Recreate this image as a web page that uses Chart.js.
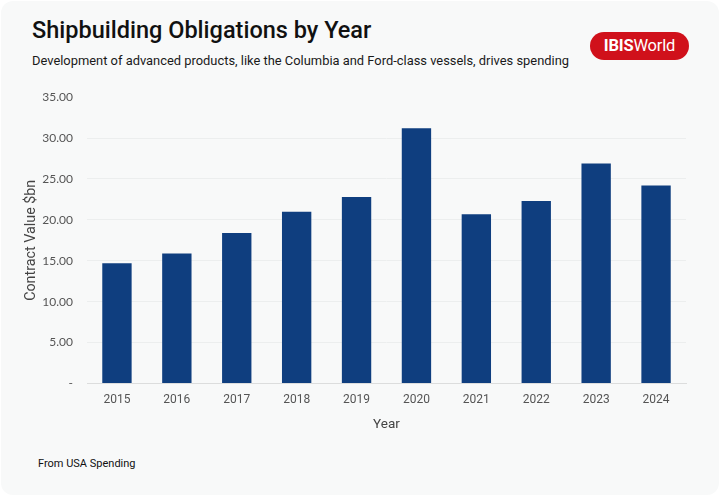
<!DOCTYPE html>
<html>
<head>
<meta charset="utf-8">
<script src="https://cdn.jsdelivr.net/npm/chart.js@4.4.1/dist/chart.umd.min.js"></script>
<style>
  html, body { margin: 0; padding: 0; background: #ffffff; }
  #card {
    position: relative; width: 718px; height: 494px; margin: 1px;
    background: #f8f9f9; border-radius: 12px; overflow: hidden;
    font-family: Roboto, "Noto Sans", sans-serif;
  }
  #title { position: absolute; left: 31px; top: 15px; font-size: 23.5px; font-weight: 500; color: #111; }
  #subtitle { position: absolute; left: 31px; top: 52px; font-size: 12.9px; color: #1a1a1a; }
  #logo {
    position: absolute; left: 589px; top: 31px; width: 99px; height: 28px;
    background: #d0111b; border-radius: 14px; color: #fff; font-size: 16.5px;
    line-height: 28px; text-align: center; letter-spacing: -0.2px;
  }
  #logo b { font-weight: 700; }
  #source { position: absolute; left: 37px; top: 456px; font-size: 11px; color: #111; }
  #chartWrap { position: absolute; left: 0; top: 75px; width: 718px; height: 361px; }
</style>
</head>
<body>
<div id="card">
  <div id="title">Shipbuilding Obligations by Year</div>
  <div id="subtitle">Development of advanced products, like the Columbia and Ford-class vessels, drives spending</div>
  <div id="logo"><b>IBIS</b>World</div>
  <div id="chartWrap"><canvas id="chart"></canvas></div>
  <div id="source">From USA Spending</div>
</div>
<script>
const years = ['2015', '2016', '2017', '2018', '2019', '2020', '2021', '2022', '2023', '2024'];
const contractValues = [14.7, 15.9, 18.4, 21.0, 22.8, 31.2, 20.7, 22.3, 26.9, 24.2];
const yTicks = [0, 5, 10, 15, 20, 25, 30, 35];

const ctx = document.getElementById('chart').getContext('2d');

const chart = new Chart(ctx, {
    type: 'bar',
    data: {
        labels: years,
        datasets: [{
            label: 'Contract Value $bn',
            data: contractValues,
            backgroundColor: '#0f3e7f',
            barPercentage: 0.49,
            categoryPercentage: 1
        }]
    },
    options: {
        responsive: true,
        maintainAspectRatio: false,
        animation: false,
        layout: { padding: { left: 14, right: 33, top: 6, bottom: 0 } },
        plugins: {
            legend: { display: false },
            tooltip: { enabled: false }
        },
        scales: {
            x: {
                grid: { display: false, drawTicks: false },
                border: { display: true, color: '#dcdddd' },
                ticks: { color: '#555', padding: 9, font: { family: 'Roboto', size: 12 } },
                title: {
                    display: true, text: 'Year', color: '#444',
                    font: { family: 'Roboto', size: 13.5 }, padding: { top: 1 }
                }
            },
            y: {
                min: 0,
                max: 35,
                afterBuildTicks: function(axis){
                    axis.ticks = yTicks.map(v => ({ value: v }));
                },
                afterFit: function(axis){
                    axis.width = 72;
                },
                grid: {
                    drawTicks: false,
                    color: function(c){
                        return (c.tick.value === 0 || c.tick.value === 35) ? 'rgba(0,0,0,0)' : '#eceeee';
                    }
                },
                border: { display: false },
                ticks: {
                    color: '#555', padding: 14,
                    font: { family: 'Lato', size: 12 },
                    callback: function(v){ return v === 0 ? '-' : v.toFixed(2); }
                },
                title: {
                    display: true, text: 'Contract Value $bn', color: '#444',
                    font: { family: 'Roboto', size: 14.3 }, padding: { top: 8, bottom: 0 }
                }
            }
        }
    }
});
</script>
</body>
</html>
